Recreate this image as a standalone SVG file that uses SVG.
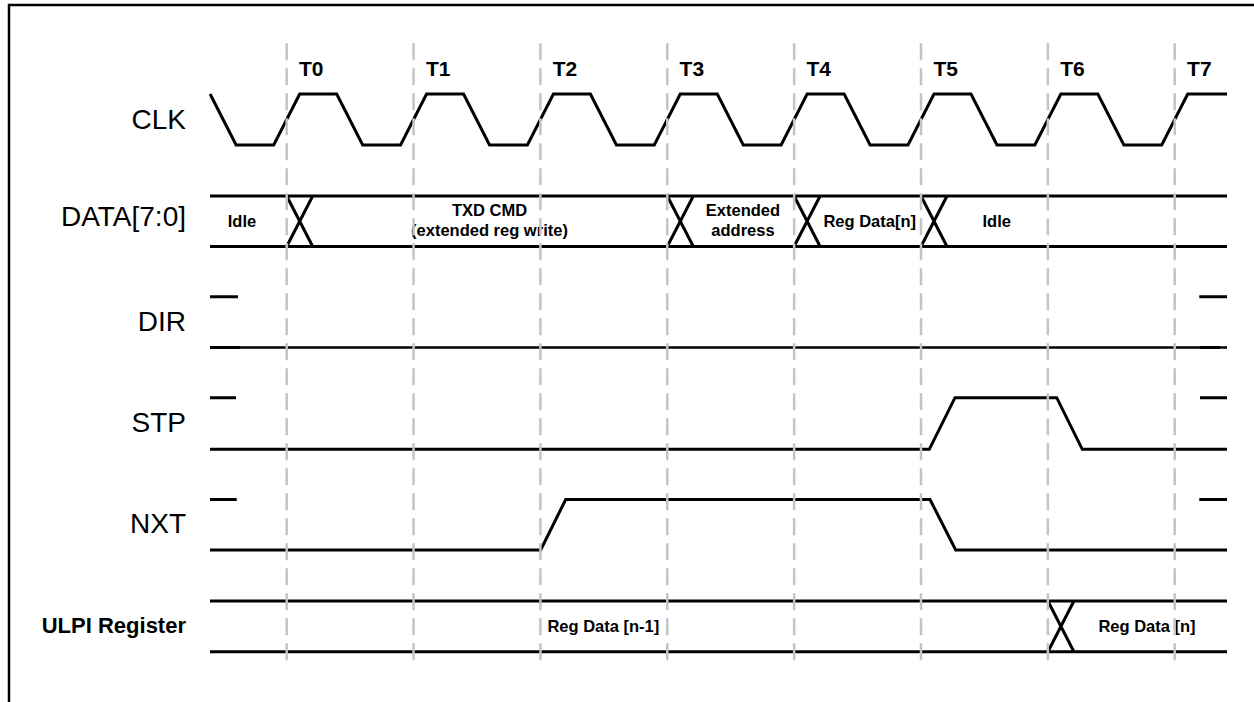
<svg xmlns="http://www.w3.org/2000/svg" width="1254" height="702" viewBox="0 0 1254 702">
<style>
.frame{fill:none;stroke:#000;stroke-width:2.5}
.w{fill:none;stroke:#000;stroke-width:3;stroke-linejoin:miter;stroke-linecap:butt}
.thin{fill:none;stroke:#000;stroke-width:2.5}
.grid{stroke:#c4c4c4;stroke-width:2.5;stroke-dasharray:17 8}
.sig{font-family:"Liberation Sans",Arial,sans-serif;font-size:28px;text-anchor:end;fill:#000}
.sigb{font-family:"Liberation Sans",Arial,sans-serif;font-size:22px;font-weight:bold;text-anchor:end;fill:#000}
.t{font-family:"Liberation Sans",Arial,sans-serif;font-size:21px;font-weight:bold;fill:#000}
.lb{font-family:"Liberation Sans",Arial,sans-serif;font-size:16.5px;font-weight:bold;text-anchor:middle;fill:#000}
</style>
<rect width="1254" height="702" fill="#fff"/>
<path class="frame" d="M9,710 V5 H1260"/>

<g id="clk">
<text class="sig" x="186" y="129">CLK</text>
<path class="w" d="M210.1,94 L236.1,145 L273.7,145 L299.7,94 L336.7,94 L362.7,145 L400.56,145 L426.56,94 L463.56,94 L489.56,145 L527.42,145 L553.42,94 L590.42,94 L616.42,145 L654.28,145 L680.28,94 L717.28,94 L743.28,145 L781.14,145 L807.14,94 L844.14,94 L870.14,145 L908,145 L934,94 L971,94 L997,145 L1034.86,145 L1060.86,94 L1097.86,94 L1123.86,145 L1161.72,145 L1187.72,94 L1227,94"/>
</g>

<g id="data">
<text class="sig" x="186" y="226">DATA[7:0]</text>
<path class="w" d="M210,196 H1227 M210,246.5 H1227"/>
<path class="w" d="M286.7,196 L312.7,246.5 M286.7,246.5 L312.7,196 M667.3,196 L693.3,246.5 M667.3,246.5 L693.3,196 M794.1,196 L820.1,246.5 M794.1,246.5 L820.1,196 M921,196 L947,246.5 M921,246.5 L947,196"/>
<text class="lb" x="242" y="226.5">Idle</text>
<text class="lb" x="489.5" y="216">TXD CMD</text>
<text class="lb" x="489.5" y="235.5">(extended reg write)</text>
<text class="lb" x="743" y="216">Extended</text>
<text class="lb" x="743" y="235.5">address</text>
<text class="lb" x="869.7" y="226.5">Reg Data[n]</text>
<text class="lb" x="996.7" y="226.5">Idle</text>
</g>

<g id="dir">
<text class="sig" x="186" y="331">DIR</text>
<path class="w" d="M210,296.7 H238 M1199.3,296.7 H1227 M210,347.5 H240 M1200,347.5 H1220"/>
<path class="thin" d="M210,347.5 H1227"/>
</g>

<g id="stp">
<text class="sig" x="186" y="432">STP</text>
<path class="w" d="M210,397.7 H236 M1200,397.7 H1227"/>
<path class="w" d="M210,449.3 L929.3,449.3 L955,397.7 L1056.7,397.7 L1082.3,449.3 L1227,449.3"/>
</g>

<g id="nxt">
<text class="sig" x="186" y="533">NXT</text>
<path class="w" d="M210,499.5 H236.7 M1199.3,499.5 H1227"/>
<path class="w" d="M210,550 L540.7,550 L565.7,499.5 L930,499.5 L955.7,550 L1227,550"/>
</g>

<g id="ulpi">
<text class="sigb" x="186" y="633.3">ULPI Register</text>
<path class="w" d="M210,601 H1227 M210,651.7 H1227"/>
<path class="w" d="M1047.9,601 L1073.9,651.7 M1047.9,651.7 L1073.9,601"/>
<text class="lb" x="603.3" y="631.5">Reg Data [n-1]</text>
<text class="lb" x="1147" y="631.5">Reg Data [n]</text>
</g>

<g id="connectors">
<g id="timeline">
<line class="grid" x1="286.7" y1="43.3" x2="286.7" y2="667"/>
<line class="grid" x1="413.56" y1="43.3" x2="413.56" y2="667"/>
<line class="grid" x1="540.42" y1="43.3" x2="540.42" y2="667"/>
<line class="grid" x1="667.28" y1="43.3" x2="667.28" y2="667"/>
<line class="grid" x1="794.14" y1="43.3" x2="794.14" y2="667"/>
<line class="grid" x1="921" y1="43.3" x2="921" y2="667"/>
<line class="grid" x1="1047.86" y1="43.3" x2="1047.86" y2="667"/>
<line class="grid" x1="1174.72" y1="43.3" x2="1174.72" y2="667"/>
</g>
</g>

<g id="ticks">
<text class="t" x="299" y="76">T0</text>
<text class="t" x="425.9" y="76">T1</text>
<text class="t" x="552.8" y="76">T2</text>
<text class="t" x="679.6" y="76">T3</text>
<text class="t" x="806.5" y="76">T4</text>
<text class="t" x="933.4" y="76">T5</text>
<text class="t" x="1060.2" y="76">T6</text>
<text class="t" x="1187.1" y="76">T7</text>
</g>
</svg>
